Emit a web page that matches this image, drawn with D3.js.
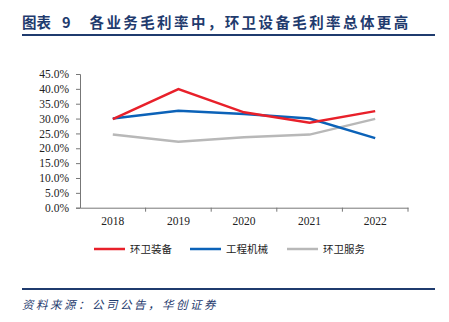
<!DOCTYPE html>
<html>
<head>
<meta charset="utf-8">
<script src="https://cdn.jsdelivr.net/npm/d3@7"></script>
<style>
  body { margin: 0; background: #fff; }
  svg { display: block; }
  .tick text { font-family: "Liberation Serif", "Times New Roman", serif; }
</style>
</head>
<body>
<div id="chart"></div>
<script>
"use strict"

// data
const years = ["2018", "2019", "2020", "2021", "2022"];
const equip = [29.8, 39.9, 32.1, 28.6, 32.5];     // 环卫装备
const machinery = [30.0, 32.6, 31.5, 30.0, 23.4]; // 工程机械
const service = [24.6, 22.2, 23.7, 24.6, 29.9];   // 环卫服务
const seriesNames = ["环卫装备", "工程机械", "环卫服务"];
const seriesColors = ["#e8202a", "#0b62b8", "#b8b8b8"];
const yTicks = [0, 5, 10, 15, 20, 25, 30, 35, 40, 45];

const width = 449, height = 322;
const plot = { left: 80, right: 408, top: 74, bottom: 207.7 };

const svg = d3.select("#chart").append("svg")
  .attr("width", width)
  .attr("height", height);

// title
const title = svg.append("text")
  .attr("y", 28)
  .attr("font-family", "'Noto Sans CJK SC'")
  .attr("font-weight", "bold")
  .attr("font-size", 14.5)
  .attr("fill", "#1f3b6e");
title.append("tspan").attr("x", 22).text("图表");
title.append("tspan").attr("x", 62).text("9");
title.append("tspan").attr("x", 89.5).attr("letter-spacing", 2.4)
  .text("各业务毛利率中，环卫设备毛利率总体更高");

svg.append("line")
  .attr("x1", 22).attr("x2", 435)
  .attr("y1", 35).attr("y2", 35)
  .attr("stroke", "#1f3b6e")
  .attr("stroke-width", 2);

const x = d3.scaleBand()
  .domain(years)
  .range([plot.left, plot.right]);

const y = d3.scaleLinear()
  .domain([0, 45])
  .range([plot.bottom, plot.top]);

// y axis
const yAxis = svg.append("g")
  .attr("transform", `translate(${plot.left},0)`)
  .call(d3.axisLeft(y).tickValues(yTicks).tickSize(4).tickPadding(7)
    .tickFormat(d => d.toFixed(1) + "%"));

// x axis (ticks at band edges)
const xAxis = svg.append("g")
  .attr("transform", `translate(0,${plot.bottom})`)
  .call(d3.axisBottom(x).tickSize(0).tickPadding(9));

xAxis.selectAll(".edge")
  .data(years)
  .join("line")
    .attr("class", "edge")
    .attr("x1", (d, i) => plot.left + x.bandwidth() * (i + 1))
    .attr("x2", (d, i) => plot.left + x.bandwidth() * (i + 1))
    .attr("y1", 0).attr("y2", 4)
    .attr("stroke", "#777");

[yAxis, xAxis].forEach(a => {
  a.attr("font-size", 11.5);
  a.select(".domain").attr("stroke", "#777");
  a.selectAll(".tick line").attr("stroke", "#777");
  a.selectAll("text").attr("fill", "#222");
});

// lines
const allSeries = [equip, machinery, service];
const line = d3.line()
  .x((d, i) => x(years[i]) + x.bandwidth() / 2)
  .y(d => y(d));

svg.append("g")
  .selectAll("path")
  .data(allSeries.slice().reverse())
  .join("path")
    .attr("d", line)
    .attr("fill", "none")
    .attr("stroke", (d, i) => seriesColors[2 - i])
    .attr("stroke-width", 2.5);

// legend
const legendX = [94, 190, 287];
const legend = svg.append("g")
  .selectAll("g")
  .data(seriesNames)
  .join("g")
    .attr("transform", (d, i) => `translate(${legendX[i]},249)`);

legend.append("line")
  .attr("x1", 0).attr("x2", 31)
  .attr("stroke", (d, i) => seriesColors[i])
  .attr("stroke-width", 2.5);

legend.append("text")
  .attr("x", 36)
  .attr("dy", "0.35em")
  .attr("font-family", "'Noto Sans CJK SC'")
  .attr("font-size", 10.5)
  .attr("fill", "#222")
  .text(d => d);

// footer
svg.append("line")
  .attr("x1", 22).attr("x2", 435)
  .attr("y1", 289).attr("y2", 289)
  .attr("stroke", "#1f3b6e")
  .attr("stroke-width", 2);

svg.append("text")
  .attr("x", 22)
  .attr("y", 309)
  .attr("font-family", "'Noto Sans CJK SC'")
  .attr("font-style", "italic")
  .attr("font-size", 11.5)
  .attr("letter-spacing", 2.5)
  .attr("fill", "#1f3b6e")
  .text("资料来源：公司公告，华创证券");
</script>
</body>
</html>
